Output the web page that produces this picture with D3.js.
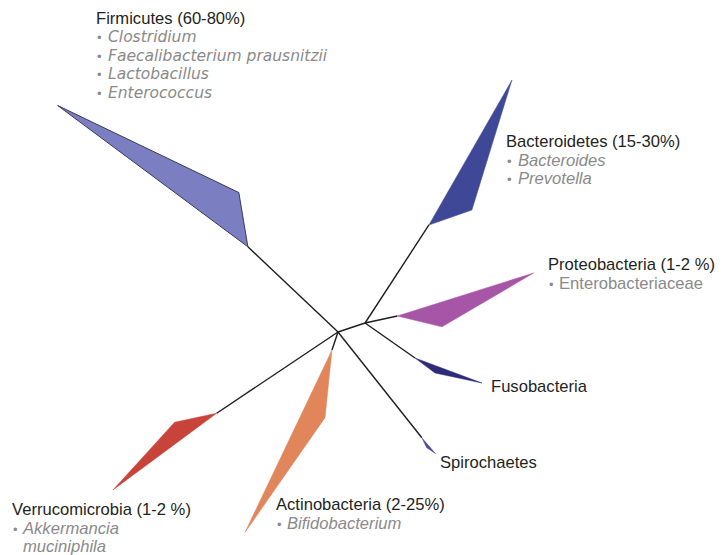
<!DOCTYPE html>
<html>
<head>
<meta charset="utf-8">
<script src="https://cdn.jsdelivr.net/npm/d3@7"></script>
<style>
  body { margin: 0; background: #fff; }
</style>
</head>
<body>
<div id="chart"></div>
<script>
// ---- tree data (branch lengths in substitution units, angles in degrees) ----
const phyla     = ["Firmicutes", "Bacteroidetes", "Proteobacteria", "Fusobacteria", "Spirochaetes", "Verrucomicrobia", "Actinobacteria"];
const abundance = ["60-80%", "15-30%", "1-2 %", "", "", "1-2 %", "2-25%"];
const genera = [
    ["Clostridium", "Faecalibacterium prausnitzii", "Lactobacillus", "Enterococcus"],
    ["Bacteroides", "Prevotella"],
    ["Enterobacteriaceae"],
    [],
    [],
    ["Akkermancia muciniphila"],
    ["Bifidobacterium"]
];
const parentNode  = ["root", "B", "B", "B", "root", "root", "root"];
const stemLength  = [0.124, 0.117, 0.033, 0.061, 0.135, 0.146, 0.019];
const stemAngle   = [-136.6, -56.9, -12.3, 35, 51.6, 146.2, 108.4];
const nearLength  = [0.055, 0.0455, 0.046, 0.025, 0.011, 0.043, 0.068];
const nearAngle   = [-99.5, -19.2, 13.7, 36.9, 64, 167.9, 95.9];
const farLength   = [0.237, 0.167, 0.143, 0.0715, 0.021, 0.129, 0.202];
const farAngle    = [-143.4, -60.2, -17.5, 20.5, 49, 143.5, 115.5];
// internal node B (joins Bacteroidetes, Proteobacteria, Fusobacteria)
const innerLength = 0.0285;
const innerAngle  = -18.4;

// ---- layout / style ----
const w = 723, h = 555;
const center = [338, 332];
const colors = ["#7b7ec0", "#3f4897", "#a655a7", "#2e2a7a", "#4a48a8", "#c8443a", "#e0865a"];
const labels = {
    Firmicutes:      {x: 96,  y: 24,  bx: 97,  tx: 108, step: 18.4, sub: "humanist"},
    Bacteroidetes:   {x: 506, y: 147, bx: 507, tx: 518, step: 18.5},
    Proteobacteria:  {x: 548, y: 270, bx: 549, tx: 559, step: 18.5, upright: true},
    Fusobacteria:    {x: 491, y: 392},
    Spirochaetes:    {x: 440, y: 468},
    Verrucomicrobia: {x: 12,  y: 515, bx: 13,  tx: 23,  step: 18.5, wrap: true},
    Actinobacteria:  {x: 276, y: 510, bx: 277, tx: 287, step: 18.5}
};
const headSize = 16.6;

const r = d3.scaleLinear().domain([0, 0.1]).range([0, 100]);

function polar(o, len, ang) {
    const a = ang * Math.PI / 180;
    return [o[0] + r(len) * Math.cos(a), o[1] + r(len) * Math.sin(a)];
}

const nodes = {root: center};
nodes.B = polar(center, innerLength, innerAngle);

const clades = phyla.map((name, i) => {
    const base = nodes[parentNode[i]];
    const tip = polar(base, stemLength[i], stemAngle[i]);
    return {
        name: name, i: i, base: base, tip: tip,
        wedge: [tip, polar(tip, nearLength[i], nearAngle[i]), polar(tip, farLength[i], farAngle[i])]
    };
});

const svg = d3.select("#chart").append("svg")
    .attr("width", w)
    .attr("height", h);

// branches
const line = d3.line();
svg.append("path")
    .attr("d", line([nodes.root, nodes.B]))
    .attr("fill", "none")
    .attr("stroke", "#1e1e1e")
    .attr("stroke-width", 1.4);

svg.selectAll("path.stem")
    .data(clades)
    .enter()
    .append("path")
    .attr("class", "stem")
    .attr("d", d => line([d.base, d.tip]))
    .attr("fill", "none")
    .attr("stroke", "#1e1e1e")
    .attr("stroke-width", 1.4);

// collapsed clade wedges
svg.selectAll("path.wedge")
    .data(clades)
    .enter()
    .append("path")
    .attr("class", "wedge")
    .attr("d", d => line(d.wedge) + "Z")
    .attr("fill", d => colors[d.i])
    .attr("stroke", d => d.i === 0 ? "#3a3a5a" : colors[d.i])
    .attr("stroke-width", d => d.i === 0 ? 1 : 0.5)
    .attr("stroke-linejoin", "round");

// labels
clades.forEach(d => {
    const L = labels[d.name];
    const g = svg.append("g");
    g.append("text")
        .attr("x", L.x)
        .attr("y", L.y)
        .attr("font-family", "'Liberation Sans', Arial, sans-serif")
        .attr("font-size", headSize)
        .attr("fill", "#231f20")
        .text(d.name + (abundance[d.i] ? " (" + abundance[d.i] + ")" : ""));

    let lines = [];
    genera[d.i].forEach(gname => {
        if (L.wrap) {
            gname.split(" ").forEach((part, k) => lines.push({t: part, bullet: k === 0}));
        } else {
            lines.push({t: gname, bullet: true});
        }
    });

    lines.forEach((ln, k) => {
        const y = L.y + L.step * (k + 1);
        if (ln.bullet) {
            g.append("text")
                .attr("x", L.bx)
                .attr("y", y)
                .attr("font-family", "'Liberation Sans', Arial, sans-serif")
                .attr("font-size", 13)
                .attr("fill", "#8a8a8a")
                .text("\u2022");
        }
        g.append("text")
            .attr("x", L.tx)
            .attr("y", y)
            .attr("font-family", L.sub === "humanist" ? "'DejaVu Sans', sans-serif" : "'Liberation Sans', Arial, sans-serif")
            .attr("font-size", L.sub === "humanist" ? 15.5 : headSize)
            .attr("font-style", L.upright ? "normal" : "italic")
            .attr("fill", "#8a8a8a")
            .text(ln.t);
    });
});
</script>
</body>
</html>
